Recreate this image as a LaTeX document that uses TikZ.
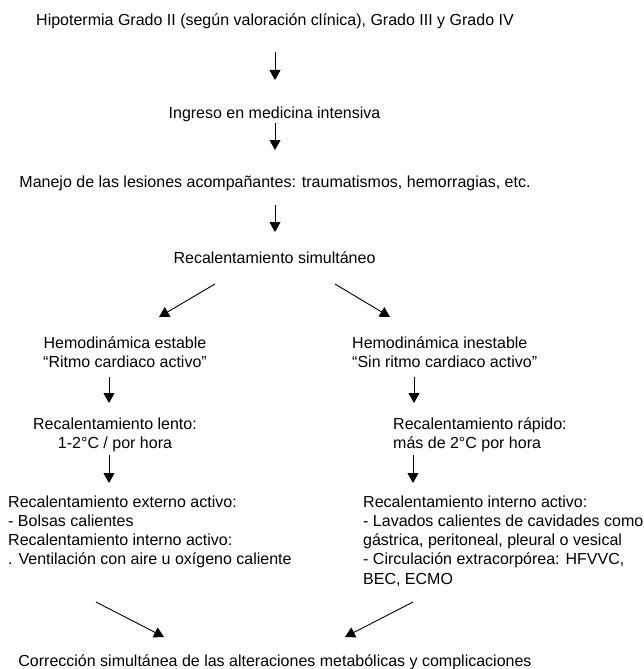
\documentclass[tikz,border=0pt]{standalone}
\usepackage{fontspec}
\setmainfont{Liberation Sans}
\usetikzlibrary{positioning,arrows.meta}
\tikzstyle{texto} = [inner sep=0pt, font=\fontsize{16}{19.3}\selectfont]
\tikzstyle{bloque} = [texto, align=left, anchor=base west]
\tikzstyle{centrado} = [texto, align=center, anchor=base]
\tikzstyle{flecha} = [line width=0.9pt, -{Triangle[length=10pt,width=11pt]}]

\begin{document}
\begin{tikzpicture}[x=1pt,y=-1pt]
			\useasboundingbox (0,0) rectangle (644,669);

			% nodos (base = linea de base de la ultima linea)
			\node (hipo) [centrado] at (275,26) {Hipotermia Grado II (según valoración clínica), Grado III y Grado IV};
			\node (ingreso) [centrado] at (274.5,118) {Ingreso en medicina intensiva};
			\node (manejo) [centrado] at (275,187) {Manejo de las lesiones acompañantes: traumatismos, hemorragias, etc.};
			\node (recal) [centrado] at (274.5,263) {Recalentamiento simultáneo};
			\node (estable) [centrado] at (125,367.3) {Hemodinámica estable\\“Ritmo cardiaco activo”};
			\node (inestable) [bloque] at (352,367.3) {Hemodinámica inestable\\“Sin ritmo cardiaco activo”};
			\node (lento) [centrado] at (115,448.3) {Recalentamiento lento:\\1-2°C / por hora};
			\node (rapido) [bloque] at (393,448.3) {Recalentamiento rápido:\\más de 2°C por hora};
			\node (externo) [bloque] at (8,564.9) {Recalentamiento externo activo:\\- Bolsas calientes\\Recalentamiento interno activo:\\. Ventilación con aire u oxígeno caliente};
			\node (interno) [bloque] at (363,584.2) {Recalentamiento interno activo:\\- Lavados calientes de cavidades como\\gástrica, peritoneal, pleural o vesical\\- Circulación extracorpórea: HFVVC,\\BEC, ECMO};
			\node (correccion) [centrado] at (275,666) {Corrección simultánea de las alteraciones metabólicas y complicaciones};

			% extremos de las flechas
			\coordinate (f1a) at (275,52);   \coordinate (f1b) at (275,80);
			\coordinate (f2a) at (275,123);  \coordinate (f2b) at (275,150);
			\coordinate (f3a) at (275,205);  \coordinate (f3b) at (275,232);
			\coordinate (d1a) at (215,284);  \coordinate (d1b) at (159,317);
			\coordinate (d2a) at (335,284);  \coordinate (d2b) at (390,317);
			\coordinate (f4a) at (109,377);  \coordinate (f4b) at (109,403);
			\coordinate (f5a) at (414,377);  \coordinate (f5b) at (414,403);
			\coordinate (f6a) at (109,455);  \coordinate (f6b) at (109,483);
			\coordinate (f7a) at (413,455);  \coordinate (f7b) at (413,483);
			\coordinate (d3a) at (96,602);   \coordinate (d3b) at (164,637);
			\coordinate (d4a) at (413,602);  \coordinate (d4b) at (345,637);

			\draw [flecha] (f1a) -- (f1b);
			\draw [flecha] (f2a) -- (f2b);
			\draw [flecha] (f3a) -- (f3b);
			\draw [flecha] (d1a) -- (d1b);
			\draw [flecha] (d2a) -- (d2b);
			\draw [flecha] (f4a) -- (f4b);
			\draw [flecha] (f5a) -- (f5b);
			\draw [flecha] (f6a) -- (f6b);
			\draw [flecha] (f7a) -- (f7b);
			\draw [flecha] (d3a) -- (d3b);
			\draw [flecha] (d4a) -- (d4b);
\end{tikzpicture}
\end{document}
